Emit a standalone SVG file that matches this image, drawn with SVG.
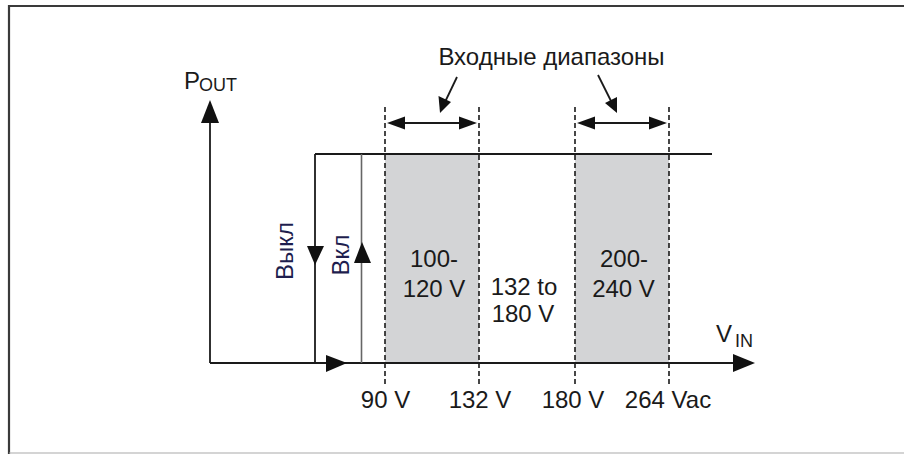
<svg xmlns="http://www.w3.org/2000/svg" width="904" height="454" viewBox="0 0 904 454">
<style>
.t{font-family:"Liberation Sans",Arial,sans-serif;font-size:24px;fill:#1a1a1a}
.s{font-size:18px}
.m{text-anchor:middle}
.r{fill:#1e1e4e}
.ln{stroke:#1a1a1a;stroke-width:1.8;fill:none}
.dash{stroke:#1a1a1a;stroke-width:1.6;stroke-dasharray:5,3;fill:none}
.ah{fill:#111}
</style>
<rect x="0" y="0" width="904" height="454" fill="#fff"/>
<g id="frame">
<line x1="9" y1="6" x2="904" y2="6" stroke="#3a3a3a" stroke-width="2"/>
<line x1="9" y1="5" x2="9" y2="454" stroke="#3a3a3a" stroke-width="2.2"/>
<line x1="9" y1="453" x2="904" y2="453" stroke="#aaa" stroke-width="1.2"/>
</g>
<g id="bands">
<rect x="385" y="154" width="94" height="209" fill="#d3d4d6"/>
<rect x="575" y="154" width="94" height="209" fill="#d3d4d6"/>
</g>
<g id="connectors">
<line class="ln" x1="210" y1="120" x2="210" y2="363"/>
<polygon class="ah" points="210,100 201,123 219,123"/>
<line class="ln" x1="210" y1="363" x2="736" y2="363"/>
<polygon class="ah" points="755,363 733,354 733,372"/>
<line class="ln" x1="315" y1="154" x2="712" y2="154" stroke-width="1.4"/>
<line class="ln" x1="315" y1="154" x2="315" y2="363"/>
<polygon class="ah" points="315,265 307,246 324,246"/>
<line x1="361.5" y1="154" x2="361.5" y2="363" stroke="#666" stroke-width="1.6"/>
<polygon class="ah" points="362,242 354,263 371,263"/>
<polygon class="ah" points="347,363 326,355 326,372"/>
<line class="dash" x1="385" y1="107" x2="385" y2="385"/>
<line class="dash" x1="479" y1="107" x2="479" y2="385"/>
<line class="dash" x1="575" y1="107" x2="575" y2="385"/>
<line class="dash" x1="669" y1="107" x2="669" y2="385"/>
<line class="ln" x1="400" y1="123" x2="464" y2="123"/>
<polygon class="ah" points="387,123 405,116.5 405,129.5"/>
<polygon class="ah" points="477,123 459,116.5 459,129.5"/>
<line class="ln" x1="590" y1="123" x2="654" y2="123"/>
<polygon class="ah" points="577,123 595,116.5 595,129.5"/>
<polygon class="ah" points="667,123 649,116.5 649,129.5"/>
<line class="ln" x1="457" y1="77" x2="445" y2="102"/>
<polygon class="ah" points="440,113 438.5,96 451,102"/>
<line class="ln" x1="598" y1="75" x2="611" y2="101"/>
<polygon class="ah" points="617,113 605,103 617,97"/>
</g>
<g id="labels">
<text class="t m" x="551.5" y="65">Входные диапазоны</text>
<text class="t" x="184" y="89">P</text><text class="t s" x="199" y="91">OUT</text>
<text class="t" x="716" y="342">V</text><text class="t s" x="735" y="347">IN</text>
<text class="t m r" transform="translate(293,251) rotate(-90)">Выкл</text>
<text class="t m r" transform="translate(349,255) rotate(-90)">Вкл</text>
<text class="t m" x="434" y="267">100-</text>
<text class="t m" x="434" y="297">120 V</text>
<text class="t m" x="524" y="295">132 to</text>
<text class="t m" x="523" y="322">180 V</text>
<text class="t m" x="624" y="267">200-</text>
<text class="t m" x="623.5" y="297">240 V</text>
<text class="t m" x="385.5" y="408">90 V</text>
<text class="t m" x="480" y="408">132 V</text>
<text class="t m" x="573" y="408">180 V</text>
<text class="t m" x="668" y="408">264 Vac</text>
</g>
</svg>
